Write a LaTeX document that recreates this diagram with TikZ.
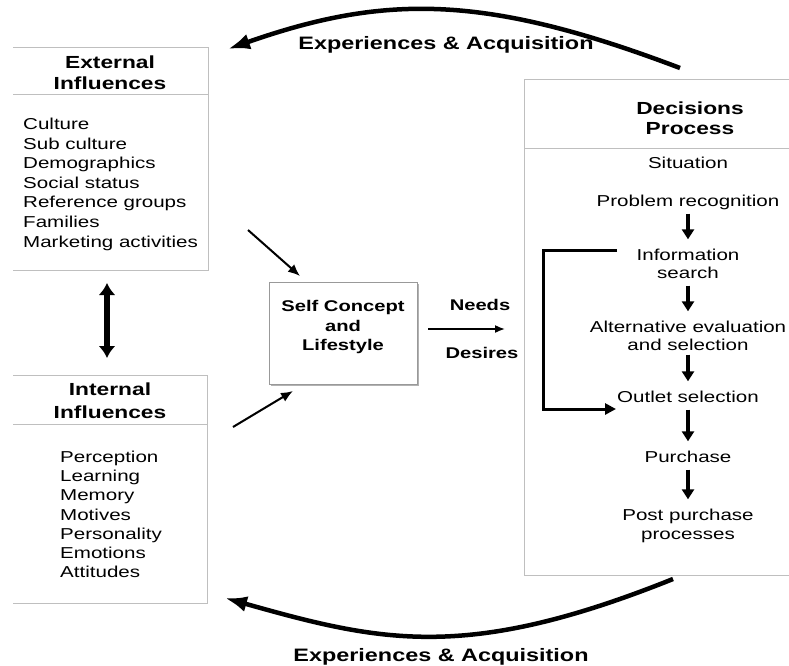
\documentclass[tikz,border=0pt]{standalone}
\usepackage{fontspec}
\setmainfont{Liberation Sans}[FakeStretch=1.3]
\usetikzlibrary{arrows.meta}
\begin{document}
\begin{tikzpicture}[x=1pt,y=-1pt,
  boxline/.style={draw=black!25, line width=0.9pt},
  body/.style={font=\fontsize{15.8}{19}\selectfont, inner sep=0pt, text height=12pt, text depth=1pt},
  head/.style={font=\bfseries\fontsize{17.5}{21}\selectfont, inner sep=0pt, text height=13pt, text depth=0pt},
  selftext/.style={font=\bfseries\fontsize{15.5}{19.5}\selectfont, inner sep=0pt, align=center},
  arclab/.style={font=\bfseries\fontsize{18}{21}\selectfont, inner sep=0pt, text height=13pt, text depth=0pt},
  arcarrow/.style={line width=4.5pt, -{Latex[length=22pt,width=16pt]}},
  darr/.style={line width=3.5pt, -{Triangle[length=10pt,width=12pt]}, shorten <=6pt, shorten >=9pt},
  fb/.style={line width=3pt, -{Triangle[length=11pt,width=11pt]}},
  thinarr/.style={line width=2pt, -{Latex[length=12pt,width=10pt]}},
  dbl/.style={line width=6pt, {Latex[length=12pt,width=17pt]}-{Latex[length=12pt,width=17pt]}}
]
\useasboundingbox (0,0) rectangle (789,665);

% External influences box
\draw[boxline] (13,47) -- (208,47) -- (208,270) -- (13,270);
\draw[boxline] (13,94) -- (208,94);
\node[head] (exth1) at (110,62) {External};
\node[head] (exth2) at (110,83) {Influences};
\foreach \t [count=\i] in {Culture,Sub culture,Demographics,Social status,Reference groups,Families,Marketing activities}
  \node[body, anchor=west] (ext\i) at (23,{124+(\i-1)*19.6}) {\t};

% Internal influences box
\draw[boxline] (13,375) -- (207,375) -- (207,603) -- (13,603);
\draw[boxline] (13,424) -- (207,424);
\node[head] (inth1) at (110,389) {Internal};
\node[head] (inth2) at (110,412) {Influences};
\foreach \t [count=\i] in {Perception,Learning,Memory,Motives,Personality,Emotions,Attitudes}
  \node[body, anchor=west] (int\i) at (60,{457+(\i-1)*19.2}) {\t};

% Double arrow between influence boxes
\coordinate (dblT) at (107,283);
\coordinate (dblB) at (107,358);
\draw[dbl] (dblB) -- (dblT);

% Self concept box (with a light shadow)
\node[fill=black!30, minimum width=148pt, minimum height=102pt, inner sep=0pt] (selfsh) at (344.5,334.5) {};
\node[draw=black!40, fill=white, line width=1pt, minimum width=148pt, minimum height=102pt, inner sep=0pt] (self) at (343,333) {};
\node[selftext] (selft) at (343,327) {Self Concept\\and\\Lifestyle};

\coordinate (extS) at (248,230);
\coordinate (extE) at (300,276);
\draw[thinarr] (extS) -- (extE);
\coordinate (intS) at (233,427);
\coordinate (intE) at (293,391);
\draw[thinarr] (intS) -- (intE);

% Needs / Desires
\node[selftext] (needs) at (480,305) {Needs};
\node[selftext] (desires) at (482,353) {Desires};
\coordinate (ndS) at (428,329);
\coordinate (ndE) at (505,329);
\draw[line width=1.6pt, -{Latex[length=10pt,width=8pt]}] (ndS) -- (ndE);

% Decisions process box
\draw[boxline] (795,79) -- (524,79) -- (524,575) -- (795,575);
\draw[boxline] (524,148) -- (795,148);
\node[head] (dech1) at (690,108) {Decisions};
\node[head] (dech2) at (690,128) {Process};
\node[body] (dsit) at (688,163) {Situation};
\node[body] (dprob) at (688,201) {Problem recognition};
\node[body] (dinfo1) at (688,255) {Information};
\node[body] (dinfo2) at (688,273) {search};
\node[body] (dalt1) at (688,327) {Alternative evaluation};
\node[body] (dalt2) at (688,345) {and selection};
\node[body] (dout) at (688,397) {Outlet selection};
\node[body] (dpur) at (688,457) {Purchase};
\node[body] (dpost1) at (688,515) {Post purchase};
\node[body] (dpost2) at (688,534) {processes};

\draw[darr] (dprob) -- (dinfo1);
\draw[darr] (dinfo2) -- (dalt1);
\draw[darr, shorten <=3pt] (dalt2) -- (dout);
\draw[darr] (dout) -- (dpur);
\draw[darr] (dpur) -- (dpost1);

% Feedback bracket
\coordinate (fbA) at (617,250);
\coordinate (fbB) at (616,409);
\draw[fb] (fbA) -- ++(-74,0) |- (fbB);

% Experiences & Acquisition arcs
\coordinate (tarcS) at (680,68);
\coordinate (tarcE) at (228,49);
\draw[arcarrow] (tarcS) .. controls (485,-6) and (385,-6) .. (tarcE);
\node[arclab] (toplab) at (446,43) {Experiences \& Acquisition};

\coordinate (barcS) at (673,579);
\coordinate (barcE) at (225,598);
\draw[arcarrow] (barcS) .. controls (466,662) and (381,642) .. (barcE);
\node[arclab] (botlab) at (441,655) {Experiences \& Acquisition};
\end{tikzpicture}
\end{document}
